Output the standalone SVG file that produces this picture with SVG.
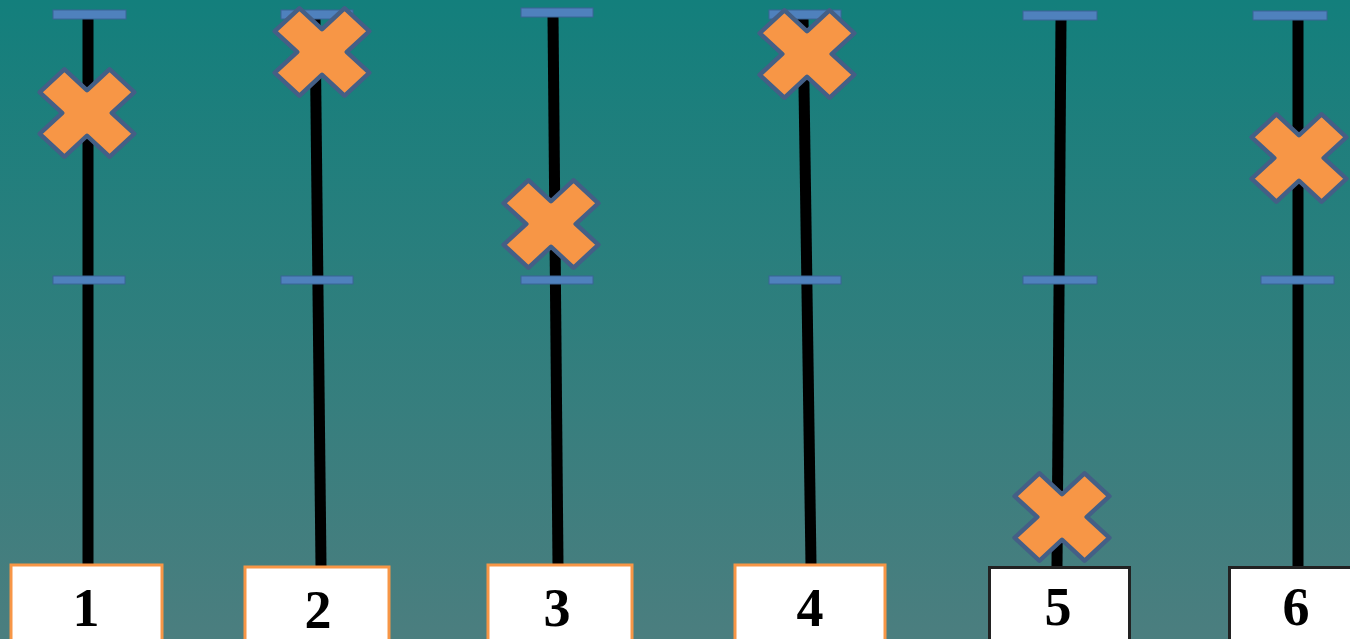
<svg xmlns="http://www.w3.org/2000/svg" xmlns:xlink="http://www.w3.org/1999/xlink" width="1350" height="639" viewBox="0 0 1350 639">
<style>
.rod{stroke:#000;stroke-width:11;fill:none}
.bar{fill:#4f81bd;stroke:#3a6496;stroke-width:1}
.box{fill:#fff;stroke-width:3}
.box.o{stroke:#f79646}
.box.d{stroke:#222}
.num{font-family:"Liberation Serif","Times New Roman",serif;font-weight:bold;font-size:54px;fill:#000;text-anchor:middle}
.mark{fill:#f79646;stroke:#445f86;stroke-width:4.5;stroke-linejoin:round}
</style>
<defs>
<linearGradient id="bg" x1="0" y1="0" x2="0" y2="1">
<stop offset="0" stop-color="#137f7c"/>
<stop offset="1" stop-color="#4b7e7f"/>
</linearGradient>
<polygon id="x" points="-17,-48 17,-48 17,-17 48,-17 48,17 17,17 17,48 -17,48 -17,17 -48,17 -48,-17 -17,-17" transform="scale(1.03,0.95) rotate(45)"/>
</defs>
<rect width="1350" height="639" fill="url(#bg)"/>
<g id="connectors">
<line class="rod" x1="88" y1="18" x2="88" y2="565"/>
<line class="rod" x1="315" y1="18" x2="321" y2="566"/>
<line class="rod" x1="553" y1="16" x2="558" y2="565"/>
<line class="rod" x1="803" y1="18" x2="811" y2="565"/>
<line class="rod" x1="1061" y1="19" x2="1057" y2="567"/>
<line class="rod" x1="1298" y1="19" x2="1298" y2="567"/>
</g>
<g id="col1">
<rect class="bar" x="53" y="10" width="73" height="9"/>
<rect class="bar" x="53" y="276" width="72" height="8"/>
<use class="mark" xlink:href="#x" transform="translate(87,113)"/>
<rect class="box o" x="11" y="565" width="151" height="76"/>
<text class="num" x="86" y="626">1</text>
</g>
<g id="col2">
<rect class="bar" x="281" y="10" width="72" height="9"/>
<rect class="bar" x="281" y="276" width="72" height="8"/>
<use class="mark" xlink:href="#x" transform="translate(322,52)"/>
<rect class="box o" x="245" y="567" width="144" height="74"/>
<text class="num" x="318" y="628">2</text>
</g>
<g id="col3">
<rect class="bar" x="521" y="8" width="72" height="9"/>
<rect class="bar" x="521" y="276" width="72" height="8"/>
<use class="mark" xlink:href="#x" transform="translate(551,224)"/>
<rect class="box o" x="488" y="565" width="144" height="76"/>
<text class="num" x="557" y="626">3</text>
</g>
<g id="col4">
<rect class="bar" x="769" y="10" width="72" height="9"/>
<rect class="bar" x="769" y="276" width="72" height="8"/>
<use class="mark" xlink:href="#x" transform="translate(807,54)"/>
<rect class="box o" x="735" y="565" width="150" height="76"/>
<text class="num" x="810" y="626">4</text>
</g>
<g id="col5">
<rect class="bar" x="1023" y="11" width="74" height="9"/>
<rect class="bar" x="1023" y="276" width="74" height="8"/>
<use class="mark" xlink:href="#x" transform="translate(1062,517)"/>
<rect class="box d" x="989.5" y="567.5" width="140" height="74"/>
<text class="num" x="1058" y="625">5</text>
</g>
<g id="col6">
<rect class="bar" x="1253" y="11" width="74" height="9"/>
<rect class="bar" x="1261" y="276" width="73" height="8"/>
<use class="mark" xlink:href="#x" transform="translate(1299,158)"/>
<rect class="box d" x="1229.5" y="567.5" width="130" height="74"/>
<text class="num" x="1296" y="625">6</text>
</g>
</svg>
